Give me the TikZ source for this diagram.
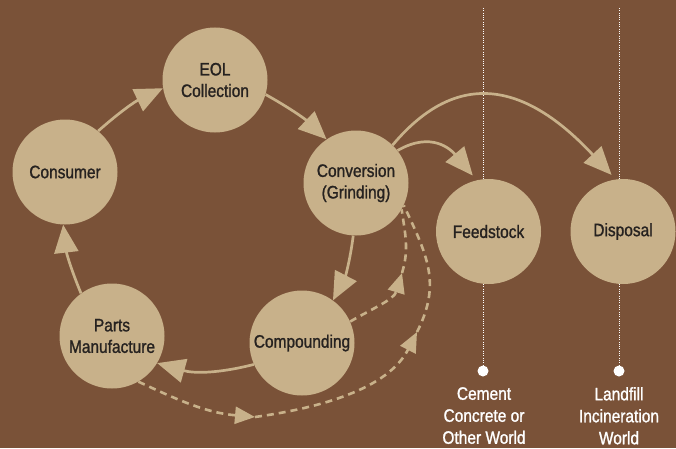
\documentclass[tikz,border=0pt]{standalone}
\usepackage{fontspec}
\setmainfont{Liberation Sans}[FakeStretch=0.86,FakeBold=1.2]
\usetikzlibrary{arrows.meta}
\definecolor{bg}{RGB}{122,82,56}
\definecolor{tan}{RGB}{200,177,138}
\definecolor{ink}{RGB}{38,34,32}
\begin{document}
\begin{tikzpicture}[x=1pt,y=1pt,
  stage/.style={circle, fill=tan, minimum size=105pt, inner sep=0pt, align=center,
    text=ink, font=\fontsize{18}{21.5}\selectfont},
  flow/.style={draw=tan, line width=2.7pt, -{Triangle[length=28pt,width=24pt]}},
  reuse/.style={draw=tan, line width=2.6pt, dash pattern=on 7pt off 5pt,
    -{Triangle[length=20pt,width=17pt]}},
  reuseend/.style={draw=tan, line width=2.6pt, dash pattern=on 7pt off 5pt},
  guide/.style={draw=white, line width=0.9pt, dash pattern=on 1pt off 1.3pt},
  enddot/.style={circle, fill=white, minimum size=11pt, inner sep=0pt},
  endtext/.style={text=white, align=center, anchor=north, inner sep=0pt,
    font=\fontsize{18}{22}\selectfont}
]
\fill[bg] (0,0) rectangle (676,448);
\useasboundingbox (0,0) rectangle (676,448);

% guide lines
\coordinate (ftop) at (483,440);
\coordinate (dtop) at (619,440);
\node[enddot] (fdot) at (483,77) {};
\node[enddot] (ddot) at (619,77) {};
\draw[guide] (ftop) -- (fdot.center);
\draw[guide] (dtop) -- (ddot.center);

% stages
\node[stage] (eol)   at (215,368) {EOL\\Collection};
\node[stage] (cons)  at (65,276)  {Consumer};
\node[stage] (conv)  at (356,265) {Conversion\\(Grinding)};
\node[stage] (comp)  at (302,105) {Compounding};
\node[stage] (parts) at (112,112) {Parts\\Manufacture};
\node[stage] (feed)  at (488.5,216.5) {Feedstock};
\node[stage] (disp)  at (623,216.5) {Disposal};

% end texts
\node[endtext] (ftext) at (484,61) {Cement\\Concrete or\\Other World};
\node[endtext] (dtext) at (619,61) {Landfill\\Incineration\\World};

% solid flows
\draw[flow] (cons.51) to[bend left=8] (eol.189);
\draw[flow] (eol.-16) to[bend left=7] (conv.124);
\draw[flow, shorten >=6pt] (conv.38) to[out=30,in=130,looseness=1.2] (feed.103);
\draw[flow, shorten >=6pt] (conv.46) to[out=50,in=133,looseness=1.3] (disp.98);
\draw[flow] (conv.267) to[bend left=10] (comp.54);
\draw[flow] (comp.204) to[bend left=15] (parts.-31);
\draw[flow] (parts.126) to[bend left=8] (cons.268);

% dashed reuse flows
\coordinate (c1) at (255,31);
\coordinate (c2) at (417,116);
\coordinate (c3) at (402,175);
\draw[reuse] (parts.-60) to[out=-25,in=175] (c1);
\draw[reuse] (c1) to[out=8,in=-117,looseness=0.9] (c2);
\draw[reuseend] (c2) to[out=63,in=-65,looseness=1.1] (conv.-25);
\draw[reuse] (comp.24) to[out=30,in=-107] (c3);
\draw[reuseend] (c3) to[out=73,in=-82] (conv.-30);
\end{tikzpicture}
\end{document}
